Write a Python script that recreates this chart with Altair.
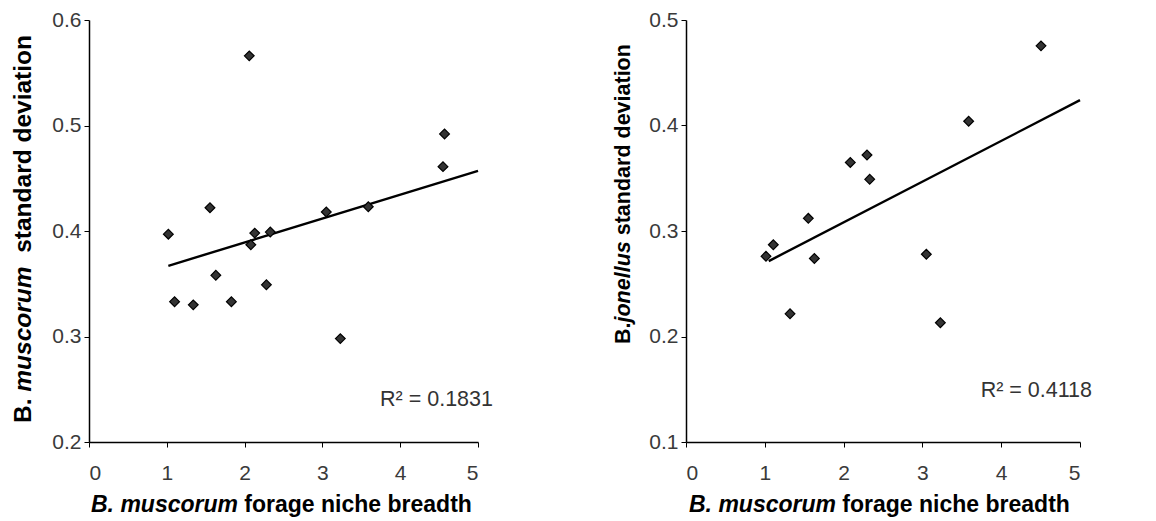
import altair as alt
import pandas as pd

# ---- data ----
mus_breadth = [1.02, 1.10, 1.34, 1.555, 1.63, 1.83, 2.06, 2.08, 2.13, 2.28, 2.33, 3.05, 3.23, 3.59, 4.55, 4.57]
mus_sd = [0.397, 0.333, 0.330, 0.422, 0.358, 0.333, 0.566, 0.387, 0.398, 0.349, 0.399, 0.418, 0.298, 0.423, 0.461, 0.492]
mus_trend_x = [1.02, 5.0]
mus_trend_y = [0.367, 0.457]

jon_breadth = [1.015, 1.108, 1.32, 1.552, 1.629, 2.085, 2.297, 2.331, 3.05, 3.228, 3.587, 4.505]
jon_sd = [0.276, 0.287, 0.2215, 0.312, 0.274, 0.365, 0.372, 0.349, 0.278, 0.213, 0.404, 0.4755]
jon_trend_x = [1.05, 5.0]
jon_trend_y = [0.2715, 0.424]

x_ticks = [0, 1, 2, 3, 4, 5]
mus_y_ticks = [0.2, 0.3, 0.4, 0.5, 0.6]
jon_y_ticks = [0.1, 0.2, 0.3, 0.4, 0.5]
r2_left = "R\u00b2 = 0.1831"
r2_right = "R\u00b2 = 0.4118"

FONT = "Liberation Sans"

# Arial / Liberation Sans Bold advance widths (em) used to chain title pieces
BOLD_W = {"B": .722, ".": .278, " ": .278, "m": .889, "u": .611, "s": .556, "c": .556,
          "o": .611, "r": .389, "t": .333, "a": .556, "n": .611, "d": .611, "e": .556,
          "v": .556, "i": .278, "j": .278, "l": .278, "f": .333, "g": .611, "h": .611,
          "b": .611}


def tw(s, fs):
    return sum(BOLD_W[c] for c in s) * fs


def txt(s, x, y, fs, angle=0, italic=False, bold=True, align="left",
        baseline="alphabetic", color="black"):
    kw = dict(font=FONT, fontSize=fs, align=align, baseline=baseline, color=color,
              fontWeight="bold" if bold else "normal",
              fontStyle="italic" if italic else "normal")
    if angle:
        kw["angle"] = angle
    return alt.Chart(pd.DataFrame({"t": [s]})).mark_text(**kw).encode(
        text="t:N", x=alt.value(x), y=alt.value(y))


def panel(xv, yv, tx, ty, ydom, yticks, r2, W, H, ytitle, xtitle_x, xtitle_y, r2_pos):
    df = pd.DataFrame({"x": xv, "y": yv})
    tdf = pd.DataFrame({"x": tx, "y": ty})
    xs = alt.Scale(domain=[0, 5], nice=False, zero=False)
    ys = alt.Scale(domain=ydom, nice=False, zero=False)
    common = dict(grid=False, domainColor="black", domainWidth=1.5, tickColor="black",
                  tickWidth=1, tickSize=5, labelFont=FONT, labelFontSize=21,
                  labelColor="#3a3a3a", title=None)
    xax = alt.Axis(values=x_ticks, format="d", labelPadding=15, **common)
    yax = alt.Axis(values=yticks, format=".1f", labelPadding=3, **common)

    line = alt.Chart(tdf).mark_line(color="black", strokeWidth=2.4).encode(
        x=alt.X("x:Q", scale=xs, axis=xax), y=alt.Y("y:Q", scale=ys, axis=yax))

    pts = alt.Chart(df).mark_point(
        shape="diamond", filled=True, size=95, fill="#333333", stroke="black",
        strokeWidth=1.2, opacity=1).encode(
        x=alt.X("x:Q", scale=xs), y=alt.Y("y:Q", scale=ys))

    layers = [line, pts]
    layers += ytitle
    fsx = 23
    layers.append(txt("B. muscorum", xtitle_x, xtitle_y, fsx, italic=True))
    layers.append(txt("forage niche breadth", xtitle_x + tw("B. muscorum ", fsx),
                      xtitle_y, fsx))
    layers.append(txt(r2, r2_pos[0], r2_pos[1], 21.5, bold=False, align="right",
                      baseline="middle", color="#333333"))
    return alt.layer(*layers).properties(width=W, height=H)


fsl = 24.5
yl0 = 403
left_ytitle = [
    txt("B.", -65, yl0, fsl, angle=270, baseline="middle"),
    txt("muscorum", -65, yl0 - tw("B. ", fsl), fsl, angle=270, italic=True, baseline="middle"),
    txt("standard deviation", -65, yl0 - tw("B. muscorum  ", fsl), fsl, angle=270,
        baseline="middle"),
]

fsr = 21.5
yr0 = 324
right_ytitle = [
    txt("B.", -62, yr0, fsr, angle=270, baseline="middle"),
    txt("jonellus", -62, yr0 - tw("B.", fsr), fsr, angle=270, italic=True, baseline="middle"),
    txt("standard deviation", -62, yr0 - tw("B.jonellus ", fsr), fsr, angle=270,
        baseline="middle"),
]

left = panel(mus_breadth, mus_sd, mus_trend_x, mus_trend_y, [0.2, 0.6], mus_y_ticks,
             r2_left, 389, 422, left_ytitle, 2, 492, (404, 380))
right = panel(jon_breadth, jon_sd, jon_trend_x, jon_trend_y, [0.1, 0.5], jon_y_ticks,
              r2_right, 394, 422, right_ytitle, 3, 492, (406, 371))

chart = alt.hconcat(left, right, spacing=208, bounds="flush").properties(
    padding={"left": 2, "top": 1, "right": 0, "bottom": 0},
    background="white",
).configure_view(stroke=None)

chart.save("out.html", embed_options={"renderer": "svg", "actions": False})
